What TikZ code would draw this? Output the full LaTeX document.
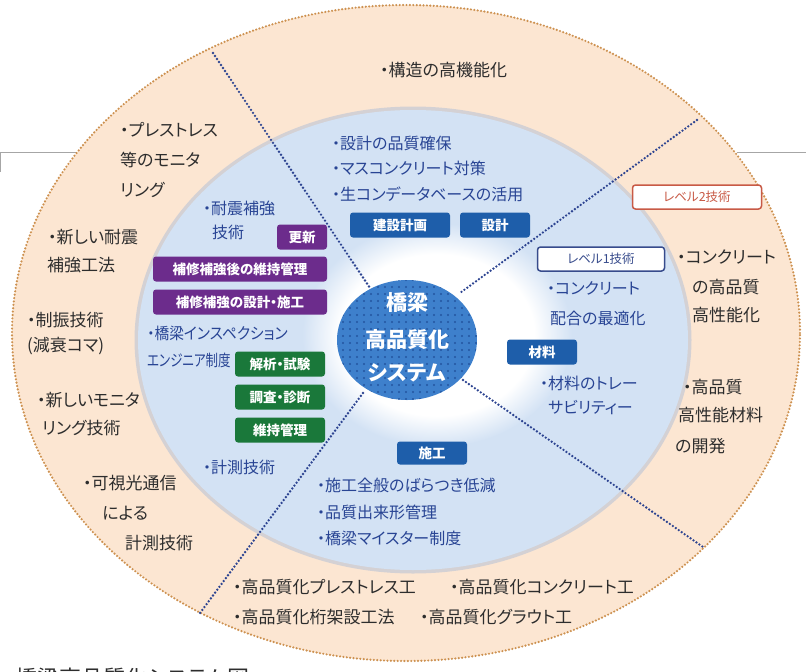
\documentclass[tikz,border=0pt]{standalone}
\usepackage{fontspec}
\setmainfont{Noto Sans CJK JP}[RawFeature={+palt}]
\usetikzlibrary{patterns.meta}
\definecolor{peach}{RGB}{252,230,210}
\definecolor{peachdot}{RGB}{205,145,80}
\definecolor{lblue}{RGB}{211,226,244}
\definecolor{lbluerim}{RGB}{165,185,215}
\definecolor{cblue}{RGB}{62,128,204}
\definecolor{cdot}{RGB}{35,85,160}
\definecolor{divblue}{RGB}{45,68,145}
\definecolor{btnblue}{RGB}{30,94,170}
\definecolor{btnpurple}{RGB}{108,44,140}
\definecolor{btngreen}{RGB}{26,120,58}
\definecolor{txtgray}{RGB}{45,45,45}
\definecolor{txtblue}{RGB}{40,68,148}
\definecolor{lvl1}{RGB}{55,75,140}
\definecolor{lvl2}{RGB}{200,90,70}
\pgfdeclareradialshading{whitefade}{\pgfpoint{0bp}{0bp}}{rgb(0bp)=(1,1,1); rgb(18bp)=(1,1,1); rgb(25bp)=(0.827,0.886,0.957); rgb(50bp)=(0.827,0.886,0.957)}
\tikzset{
  outertext/.style={inner sep=0pt, anchor=west, text=txtgray, font=\fontsize{17}{20}\selectfont},
  bluetext/.style={inner sep=0pt, anchor=west, text=txtblue, font=\fontsize{16}{18}\selectfont},
  btnbase/.style={rounded corners=3pt, inner sep=0pt, minimum height=25pt, anchor=center, text=white, font=\bfseries\fontsize{13.5}{15}\selectfont},
  bluebtn/.style={btnbase, fill=btnblue},
  purplebtn/.style={btnbase, fill=btnpurple},
  greenbtn/.style={btnbase, fill=btngreen},
  lvlbox/.style={rounded corners=3pt, inner sep=0pt, minimum height=24pt, fill=white, line width=1.5pt, font=\fontsize{12.5}{14}\selectfont},
  divider/.style={draw=divblue, line width=2.6pt, line cap=round, dash pattern=on 0pt off 3.6pt},
  centertext/.style={inner sep=0pt, anchor=center, text=white, font=\bfseries\fontsize{21}{24}\selectfont},
}
\begin{document}
\begin{tikzpicture}[x=1pt,y=-1pt]
\useasboundingbox (0,0) rectangle (806,672);
\fill[white] (0,0) rectangle (806,672);
% page frame lines
\draw[gray!70, line width=0.8pt] (0,152) -- (83,152);
\draw[gray!70, line width=0.8pt] (0,152) -- (0,172);
\draw[gray!70, line width=0.8pt] (737,152) -- (806,152);
% outer ellipse
\fill[peach] (406,333) ellipse [x radius=394pt, y radius=328pt];
\draw[peachdot, line width=2.4pt, line cap=round, dash pattern=on 0pt off 3.4pt] (406,333) ellipse [x radius=394pt, y radius=328pt];
% blue ellipse
\draw[lbluerim, line width=5pt, opacity=0.45] (413,340) ellipse [x radius=276pt, y radius=231pt];
\fill[lblue] (413,340) ellipse [x radius=275pt, y radius=230pt];
% white area
\shade[shading=whitefade] (437,335) ellipse [x radius=135pt, y radius=112pt];
% dividers
\coordinate (d1a) at (213,53);  \coordinate (d1b) at (370,288);
\coordinate (d2a) at (697,120); \coordinate (d2b) at (460,293);
\coordinate (d3a) at (463,380); \coordinate (d3b) at (703,547);
\coordinate (d4a) at (363,393); \coordinate (d4b) at (200,613);
\draw[divider] (d1a) -- (d1b);
\draw[divider] (d2a) -- (d2b);
\draw[divider] (d3a) -- (d3b);
\draw[divider] (d4a) -- (d4b);
% center ellipse
\fill[cblue] (407,340) ellipse [x radius=70pt, y radius=60pt];
\fill[pattern={Dots[distance=7pt, radius=1.1pt]}, pattern color=cdot] (407,340) ellipse [x radius=70pt, y radius=60pt];
\node[centertext] (c1) at (407,303) {橋梁};
\node[centertext] (c2) at (407,340) {高品質化};
\node[centertext] (c3) at (407,373) {システム};
% outer texts
\node[outertext] (o1) at (380,70) {・構造の高機能化};
\node[outertext] (o2a) at (120,130) {・プレストレス};
\node[outertext] (o2b) at (120,160) {等のモニタ};
\node[outertext] (o2c) at (120,190) {リング};
\node[outertext] (o3a) at (48,237) {・新しい耐震};
\node[outertext] (o3b) at (47,265) {補強工法};
\node[outertext] (o4a) at (27,320) {・制振技術};
\node[outertext] (o4b) at (27,346) {(減衰コマ)};
\node[outertext] (o5a) at (37,400) {・新しいモニタ};
\node[outertext] (o5b) at (42,428) {リング技術};
\node[outertext] (o6a) at (83,483) {・可視光通信};
\node[outertext] (o6b) at (102,513) {による};
\node[outertext] (o6c) at (125,543) {計測技術};
\node[outertext] (o7a) at (233,587) {・高品質化プレストレス工};
\node[outertext] (o7b) at (450,587) {・高品質化コンクリート工};
\node[outertext] (o8a) at (233,617) {・高品質化桁架設工法};
\node[outertext] (o8b) at (420,617) {・高品質化グラウト工};
\node[outertext] (o9a) at (677,257) {・コンクリート};
\node[outertext] (o9b) at (692,287) {の高品質};
\node[outertext] (o9c) at (692,315) {高性能化};
\node[outertext] (o10a) at (683,387) {・高品質};
\node[outertext] (o10b) at (678,415) {高性能材料};
\node[outertext] (o10c) at (675,446) {の開発};
% blue texts
\node[bluetext] (b1a) at (332,143) {・設計の品質確保};
\node[bluetext] (b1b) at (332,168) {・マスコンクリート対策};
\node[bluetext] (b1c) at (332,194) {・生コンデータベースの活用};
\node[bluetext] (b2a) at (203,208) {・耐震補強};
\node[bluetext] (b2b) at (212,232) {技術};
\node[bluetext] (b3a) at (147,333) {\scalebox{0.92}[1]{・橋梁インスペクション}};
\node[bluetext] (b3b) at (147,360) {\scalebox{0.78}[1]{エンジニア制度}};
\node[bluetext] (b4) at (203,467) {・計測技術};
\node[bluetext] (b5a) at (317,485) {・施工全般のばらつき低減};
\node[bluetext] (b5b) at (317,512) {・品質出来形管理};
\node[bluetext] (b5c) at (317,538) {・橋梁マイスター制度};
\node[bluetext] (b6a) at (540,383) {・材料のトレー};
\node[bluetext] (b6b) at (548,408) {サビリティー};
\node[bluetext] (b7a) at (547,288) {・コンクリート};
\node[bluetext] (b7b) at (550,318) {配合の最適化};
% buttons
\node[bluebtn, minimum width=100pt] (kensetsu) at (400,225) {建設計画};
\node[bluebtn, minimum width=70pt] (sekkei) at (495,225) {設計};
\node[purplebtn, minimum width=50pt] (koushin) at (302,237) {更新};
\node[purplebtn, minimum width=174pt] (hoshuiji) at (240,269) {補修補強後の維持管理};
\node[purplebtn, minimum width=174pt] (hoshusekkei) at (240,302) {補修補強の設計・施工};
\node[greenbtn, minimum width=90pt] (kaiseki) at (280,364) {解析・試験};
\node[greenbtn, minimum width=90pt] (chousa) at (280,397) {調査・診断};
\node[greenbtn, minimum width=90pt] (ijikanri) at (280,430) {維持管理};
\node[bluebtn, minimum width=70pt, minimum height=23pt] (sekou) at (432,453) {施工};
\node[bluebtn, minimum width=70pt] (zairyou) at (542,352) {材料};
\node[lvlbox, draw=lvl1, text=lvl1, minimum width=127pt] (level1) at (601,259) {レベル1技術};
\node[lvlbox, draw=lvl2, text=lvl2, minimum width=129pt] (level2) at (697,197) {レベル2技術};
% caption (cut off at bottom edge, as in the reference)
\node[inner sep=0pt, anchor=west, text=txtgray, font=\fontsize{22}{24}\selectfont] (caption) at (15,678) {橋梁高品質化システム図};
\end{tikzpicture}
\end{document}
